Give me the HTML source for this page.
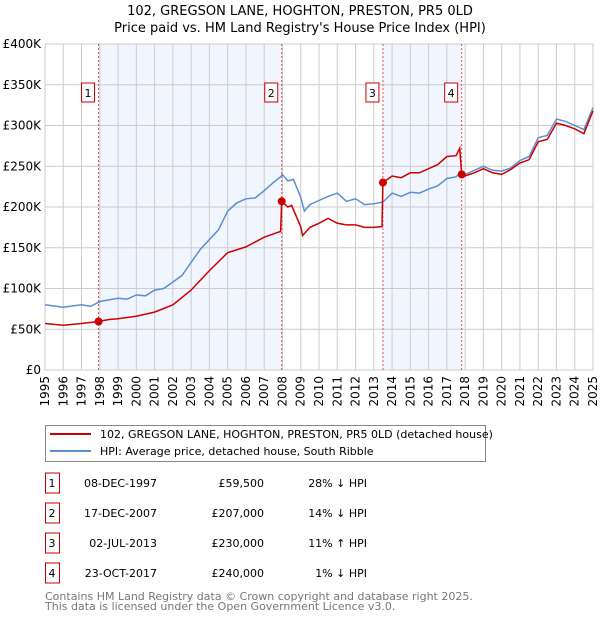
<!DOCTYPE html>
<html><head><meta charset="utf-8"><style>
body{margin:0;background:#fff}
svg{display:block;font-family:"DejaVu Sans","Liberation Sans",sans-serif}
</style></head><body>
<svg id="chart" width="600" height="620" viewBox="0 0 600 620">
<text x="300" y="15" text-anchor="middle" font-size="13">102, GREGSON LANE, HOGHTON, PRESTON, PR5 0LD</text>
<text x="300" y="32" text-anchor="middle" font-size="13">Price paid vs. HM Land Registry's House Price Index (HPI)</text>
<g id="plot"></g>
<g>
<rect x="45.5" y="425.5" width="440" height="36" fill="#fff" stroke="#888"/>
<line x1="50" y1="434" x2="91" y2="434" stroke="#cc0000" stroke-width="2"/>
<text x="100" y="438" font-size="11">102, GREGSON LANE, HOGHTON, PRESTON, PR5 0LD (detached house)</text>
<line x1="50" y1="451" x2="91" y2="451" stroke="#5b8fd4" stroke-width="2"/>
<text x="100" y="455" font-size="11">HPI: Average price, detached house, South Ribble</text>
</g>
<g id="table" font-size="11"></g>
<text x="45" y="600" font-size="11" fill="#777">Contains HM Land Registry data © Crown copyright and database right 2025.</text>
<text x="45" y="610" font-size="11" fill="#777">This data is licensed under the Open Government Licence v3.0.</text>
</svg>
<script>
const hpiYears=[1995,1996,1997,1997.5,1998,1999,1999.5,2000,2000.5,2001,2001.5,2002,2002.5,2003,2003.5,2004,2004.5,2005,2005.5,2006,2006.5,2007,2007.5,2007.9,2008,2008.3,2008.6,2009,2009.2,2009.5,2010,2010.5,2011,2011.5,2012,2012.5,2013,2013.5,2014,2014.5,2015,2015.5,2016,2016.5,2017,2017.5,2017.8,2018,2018.5,2019,2019.5,2020,2020.5,2021,2021.5,2022,2022.5,2023,2023.5,2024,2024.5,2025];
const hpiValues=[80,77,80,78,84,88,87,92,91,98,100,108,116,132,148,160,172,195,205,210,211,220,230,237,240,232,234,212,195,203,208,213,217,207,210,203,204,206,217,213,218,217,222,226,235,237,243,240,245,250,245,244,248,257,262,285,288,308,305,300,295,322];
const priceYears=[1995,1996,1997,1997.93,1998.5,1999,2000,2001,2002,2003,2004,2005,2006,2007,2007.9,2007.96,2008.3,2008.5,2009,2009.1,2009.5,2010,2010.5,2011,2011.5,2012,2012.5,2013,2013.45,2013.5,2014,2014.5,2015,2015.5,2016,2016.5,2017,2017.5,2017.7,2017.81,2018,2018.5,2019,2019.5,2020,2020.5,2021,2021.5,2022,2022.5,2023,2023.5,2024,2024.5,2025];
const priceValues=[57,55,57,59.5,62,63,66,71,80,98,122,144,151,163,170,207,200,202,176,165,175,180,186,180,178,178,175,175,176,230,238,236,242,242,247,252,262,263,272,240,238,242,247,242,240,246,254,258,280,283,303,300,296,290,318];
const saleYears=[1997.93,2007.96,2013.5,2017.81];
const saleValues=[59.5,207,230,240];
const saleLabels=["1","2","3","4"];
const saleDates=["08-DEC-1997","17-DEC-2007","02-JUL-2013","23-OCT-2017"];
const salePrices=["£59,500","£207,000","£230,000","£240,000"];
const saleHpi=["28% ↓ HPI","14% ↓ HPI","11% ↑ HPI","1% ↓ HPI"];
const yTicks=[0,50,100,150,200,250,300,350,400];
const yTickLabels=["£0","£50K","£100K","£150K","£200K","£250K","£300K","£350K","£400K"];
const xTicks=[1995,1996,1997,1998,1999,2000,2001,2002,2003,2004,2005,2006,2007,2008,2009,2010,2011,2012,2013,2014,2015,2016,2017,2018,2019,2020,2021,2022,2023,2024,2025];

const NS="http://www.w3.org/2000/svg";
const L=45,R=593,T=44,B=370;
const X=y=>L+(y-1995)/30*(R-L);
const Y=v=>B-v/400*(B-T);
const g=document.getElementById('plot');
function mk(tag,attrs,parent){const e=document.createElementNS(NS,tag);for(const k in attrs)e.setAttribute(k,attrs[k]);(parent||g).appendChild(e);return e;}
// shading
for(let i=0;i<saleYears.length;i+=2){
 const r=mk('rect',{x:X(saleYears[i]),y:T,width:X(saleYears[i+1])-X(saleYears[i]),height:B-T,fill:'#eef3fd',opacity:0.8});
 
 
}
yTicks.forEach((v,i)=>{
 const l=mk('line',{x1:L,x2:R,y1:Y(v),y2:Y(v),stroke:'#ccc','stroke-width':1});
 
 
 const t=mk('text',{x:L-4,y:Y(v)+4,'text-anchor':'end','font-size':12});
 t.textContent=yTickLabels[i];
 
 
});
xTicks.forEach(y=>{
 const l=mk('line',{x1:X(y),x2:X(y),y1:T,y2:B,stroke:'#ccc','stroke-width':1});
 
 
 const t=mk('text',{x:0,y:0,'text-anchor':'end','font-size':12,transform:`translate(${X(y)+4},${B+6}) rotate(-90)`});
 t.textContent=y;
 
 
});
const ax=mk('rect',{x:L,y:T,width:R-L,height:B-T,fill:'none',stroke:'#ccc'});


saleYears.forEach((y,i)=>{
 const l=mk('line',{x1:X(y),x2:X(y),y1:T,y2:B,stroke:'#e05050','stroke-width':1,'stroke-dasharray':'2,2'});
 
 
 const bx=mk('rect',{x:X(y)-17,y:83,width:13,height:19,fill:'#fff',stroke:'#cc0000'});
 
 
 const t=mk('text',{x:X(y)-10.5,y:97,'text-anchor':'middle','font-size':11});
 t.textContent=saleLabels[i];
 
 
});
function path(xs,vs,color,name){
 const d=xs.map((x,i)=>(i?'L':'M')+X(x).toFixed(1)+','+Y(vs[i]).toFixed(1)).join('');
 const p=mk('path',{d:d,fill:'none',stroke:color,'stroke-width':1.5});
 
 
}
path(hpiYears,hpiValues,'#5b8fd4','hpi-line');
path(priceYears,priceValues,'#cc0000','price-line');
saleYears.forEach((y,i)=>{
 const c=mk('circle',{cx:X(y),cy:Y(saleValues[i]),r:4,fill:'#cc0000'});
 
 
});
const tb=document.getElementById('table');
saleLabels.forEach((s,i)=>{
 const cy=483+i*30;
 const bx=mk('rect',{x:45.5,y:cy-10,width:14,height:20,fill:'#fff',stroke:'#cc0000'},tb);
 
 
 const cells=[[52,'middle',s,'row-number'],[157,'end',saleDates[i],'row-date'],[264,'end',salePrices[i],'row-price'],[367,'end',saleHpi[i],'row-hpi-change']];
 cells.forEach(c=>{
  const t=mk('text',{x:c[0],y:cy+4,'text-anchor':c[1]},tb);
  t.textContent=c[2];
  
  
 });
});
</script>
</body></html>
